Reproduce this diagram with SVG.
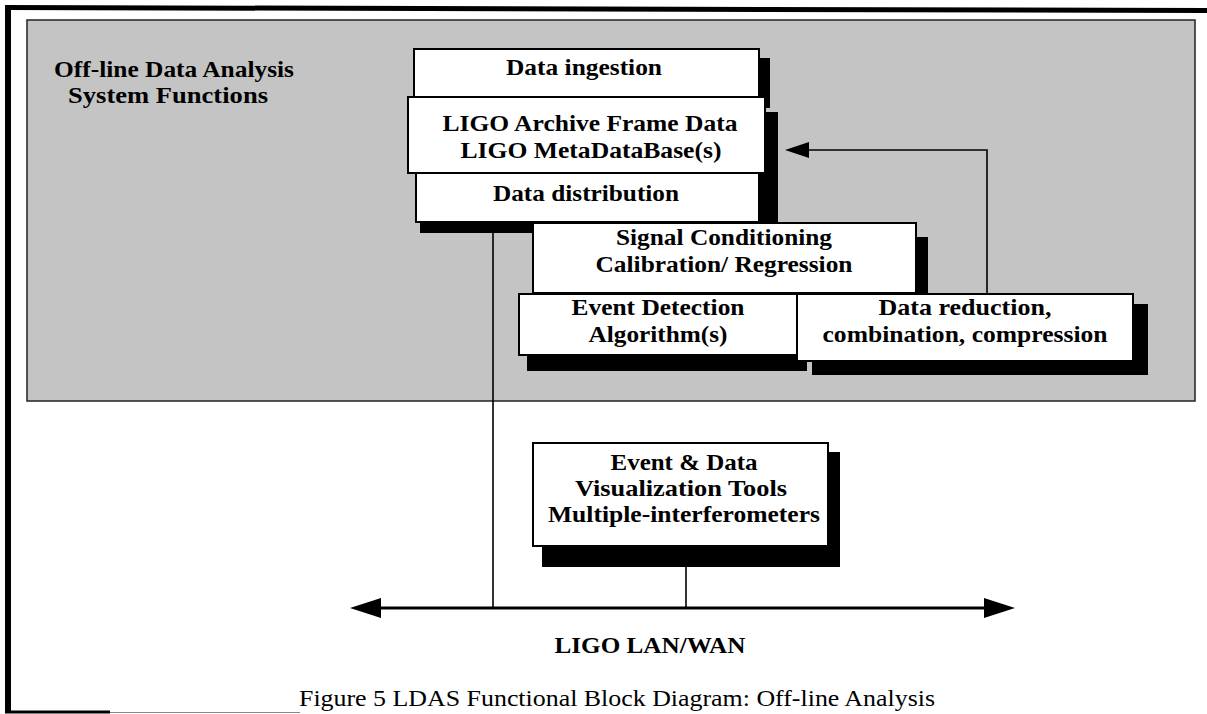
<svg xmlns="http://www.w3.org/2000/svg" width="1207" height="714" viewBox="0 0 1207 714">
<defs>
<style>
.box{fill:#fff;stroke:#000;stroke-width:2}
.sh{fill:#000}
.t{font-family:"Liberation Serif","Times New Roman",serif;font-weight:bold;font-size:23px;fill:#000;text-anchor:middle}
.cap{font-family:"Liberation Serif","Times New Roman",serif;font-size:24px;fill:#000;text-anchor:middle}
.ln{stroke:#000;stroke-width:1.6;fill:none}
</style>
</defs>
<rect width="1207" height="714" fill="#fff"/>
<g id="frame">
<path d="M5 7.5 L1207 10.5" stroke="#000" stroke-width="5"/>
<path d="M8 5 L8 712" stroke="#000" stroke-width="6"/>
<path d="M5 712 L110 712" stroke="#000" stroke-width="3"/>
<path d="M110 712.5 L300 712.5" stroke="#888" stroke-width="1"/>
</g>
<g id="panel">
<rect x="27" y="20" width="1168" height="381" fill="#c4c4c4" stroke="#222" stroke-width="1.5"/>
<text class="t" x="174" y="77" textLength="240" lengthAdjust="spacingAndGlyphs">Off-line Data Analysis</text>
<text class="t" x="168" y="103" textLength="200" lengthAdjust="spacingAndGlyphs">System Functions</text>
</g>
<g id="connectors">
<polyline class="ln" points="987,294 987,150 805,150"/>
<polygon points="785,150 809,142 809,158" fill="#000"/>
<line class="ln" x1="493" y1="233" x2="493" y2="608"/>
<line class="ln" x1="686" y1="567" x2="686" y2="608"/>
<line x1="375" y1="608" x2="990" y2="608" stroke="#000" stroke-width="3"/>
<polygon points="350,608 381,598 381,618" fill="#000"/>
<polygon points="1015,608 984,598 984,618" fill="#000"/>
</g>
<g id="archive-stack">
<rect class="sh" x="425" y="58" width="345" height="50"/>
<rect class="sh" x="420" y="112" width="358" height="121"/>
<rect class="box" x="414" y="49" width="345" height="48"/>
<rect class="box" x="408" y="97" width="357" height="76"/>
<rect class="box" x="416" y="173" width="343" height="49"/>
<text class="t" x="584" y="75" textLength="156" lengthAdjust="spacingAndGlyphs">Data ingestion</text>
<text class="t" x="590" y="131" textLength="295" lengthAdjust="spacingAndGlyphs">LIGO Archive Frame Data</text>
<text class="t" x="591" y="158" textLength="261" lengthAdjust="spacingAndGlyphs">LIGO MetaDataBase(s)</text>
<text class="t" x="586" y="201" textLength="186" lengthAdjust="spacingAndGlyphs">Data distribution</text>
</g>
<g id="signal-conditioning">
<rect class="sh" x="545" y="237" width="383" height="60"/>
<rect class="box" x="533" y="223" width="383" height="70"/>
<text class="t" x="724" y="245" textLength="216" lengthAdjust="spacingAndGlyphs">Signal Conditioning</text>
<text class="t" x="724" y="272" textLength="257" lengthAdjust="spacingAndGlyphs">Calibration/ Regression</text>
</g>
<g id="event-detection">
<rect class="sh" x="527" y="305" width="280" height="66"/>
<rect class="box" x="519" y="294" width="278" height="61"/>
<text class="t" x="658" y="315" textLength="173" lengthAdjust="spacingAndGlyphs">Event Detection</text>
<text class="t" x="658" y="342" textLength="139" lengthAdjust="spacingAndGlyphs">Algorithm(s)</text>
</g>
<g id="data-reduction">
<rect class="sh" x="812" y="304" width="336" height="71"/>
<rect class="box" x="797" y="294" width="336" height="67"/>
<text class="t" x="965" y="315" textLength="173" lengthAdjust="spacingAndGlyphs">Data reduction,</text>
<text class="t" x="965" y="342" textLength="285" lengthAdjust="spacingAndGlyphs">combination, compression</text>
</g>
<g id="visualization">
<rect class="sh" x="542" y="452" width="298" height="115"/>
<rect class="box" x="533" y="443" width="295" height="103"/>
<text class="t" x="684" y="470" textLength="147" lengthAdjust="spacingAndGlyphs">Event &amp; Data</text>
<text class="t" x="681" y="496" textLength="212" lengthAdjust="spacingAndGlyphs">Visualization Tools</text>
<text class="t" x="684" y="522" textLength="272" lengthAdjust="spacingAndGlyphs">Multiple-interferometers</text>
</g>
<g id="labels">
<text class="t" x="650" y="653" textLength="191" lengthAdjust="spacingAndGlyphs">LIGO LAN/WAN</text>
<text class="cap" x="617" y="706" textLength="636" lengthAdjust="spacingAndGlyphs">Figure 5 LDAS Functional Block Diagram: Off-line Analysis</text>
</g>
</svg>
